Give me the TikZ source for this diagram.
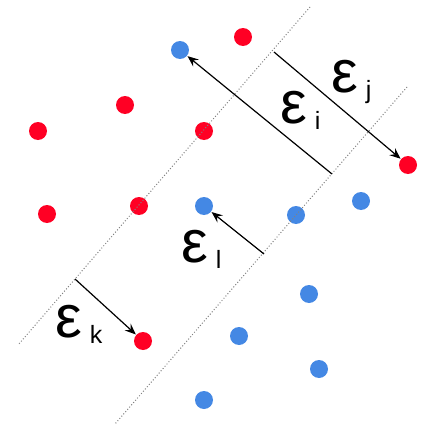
\documentclass[tikz,border=0pt]{standalone}
\usepackage{fontspec}
\setmainfont{Liberation Sans}
\usetikzlibrary{arrows.meta}
\definecolor{dotred}{RGB}{255,0,36}
\definecolor{dotblue}{RGB}{68,136,228}
\definecolor{sepgray}{RGB}{130,130,130}
\tikzset{
  reddot/.style={circle,fill=dotred,inner sep=0pt,minimum size=18pt},
  bluedot/.style={circle,fill=dotblue,inner sep=0pt,minimum size=18pt},
  sepline/.style={sepgray,line width=1pt,dotted},
  marginarrow/.style={black,line width=1.2pt,-{Stealth[length=11pt,width=9pt,inset=4pt]},shorten >=0.5pt},
  epslabel/.style={inner sep=0pt,anchor=base west}
}
\newcommand{\epsl}[1]{{\fontsize{60}{60}\selectfont ε}\hspace{8pt}{\fontsize{25}{25}\selectfont\raisebox{-6pt}{#1}}}
\begin{document}
\begin{tikzpicture}[x=1pt,y=-1pt]
\useasboundingbox (0,0) rectangle (445,439);
% dots
\node[reddot] (r1) at (243,37) {};
\node[reddot] (r2) at (125,105) {};
\node[reddot] (r3) at (38,131) {};
\node[reddot] (r4) at (204,131) {};
\node[reddot] (r5) at (47,214) {};
\node[reddot] (r6) at (139,206) {};
\node[reddot] (r7) at (408,165) {};
\node[reddot] (r8) at (143,341) {};
\node[bluedot] (b1) at (180,50) {};
\node[bluedot] (b2) at (204,206) {};
\node[bluedot] (b3) at (296,215) {};
\node[bluedot] (b4) at (361,201) {};
\node[bluedot] (b5) at (309,294) {};
\node[bluedot] (b6) at (239,336) {};
\node[bluedot] (b7) at (319,369) {};
\node[bluedot] (b8) at (204,400) {};
% separating lines
\coordinate (l1a) at (310,7);
\coordinate (l1b) at (18,345);
\coordinate (l2a) at (407,87);
\coordinate (l2b) at (115,424);
\draw[sepline] (l1a) -- (l1b);
\draw[sepline] (l2a) -- (l2b);
% arrow starts
\coordinate (sj) at (274,52);
\coordinate (sk) at (75,279);
\coordinate (si) at (332,174);
\coordinate (sl) at (264,254);
\draw[marginarrow] (sj) -- (r7);
\draw[marginarrow] (si) -- (b1);
\draw[marginarrow] (sl) -- (b2);
\draw[marginarrow] (sk) -- (r8);
% labels
\node[epslabel] (ej) at (331,92) {\epsl{j}};
\node[epslabel] (ei) at (280,123) {\epsl{i}};
\node[epslabel] (el) at (181,262) {\epsl{l}};
\node[epslabel] (ek) at (55,337) {\epsl{k}};
\end{tikzpicture}
\end{document}
